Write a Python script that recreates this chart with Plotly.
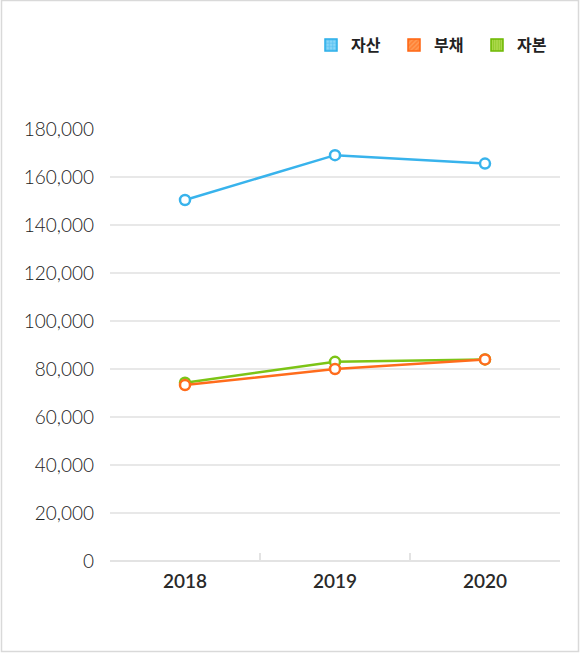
import plotly.graph_objects as go

# data
years = ["2018", "2019", "2020"]
assets = [150400, 169100, 165600]
liabilities = [73300, 80000, 84000]
equity = [74300, 83000, 84000]

names = ["자산", "부채", "자본"]
line_colors = ["#38b3ec", "#ff6c1c", "#7cc416"]

W, H = 580, 653
ML, MR, MT, MB = 110, 20, 129, 92
PW, PH = W - ML - MR, H - MT - MB

fig = go.Figure()

# lines (green before orange so orange sits on top)
for vals, color in [(assets, line_colors[0]), (equity, line_colors[2]), (liabilities, line_colors[1])]:
    fig.add_trace(go.Scatter(
        x=years, y=vals, mode="lines+markers", showlegend=False,
        line=dict(color=color, width=2.5),
        marker=dict(symbol="circle", size=10, color="white",
                    line=dict(color=color, width=2.5)),
        hoverinfo="skip",
    ))

# legend swatches: empty bar traces with pattern fills
patterns = [
    dict(bg="#8ad6f8", fg="#2aaee9", shape="+", size=4, solidity=0.5),
    dict(bg="#ff9b55", fg="#ff6410", shape="/", size=4, solidity=0.5),
    dict(bg="#b4dd55", fg="#6cb800", shape="|", size=3, solidity=0.5),
]
for name, p in zip(names, patterns):
    fig.add_trace(go.Bar(
        x=[None], y=[None], name=name,
        marker=dict(color=p["bg"], line=dict(width=1.5, color=p["fg"]),
                    pattern=dict(shape=p["shape"], fgcolor=p["fg"], bgcolor=p["bg"],
                                 size=p["size"], solidity=p["solidity"], fillmode="overlay")),
    ))

fig.update_layout(
    width=W, height=H,
    margin=dict(l=ML, r=MR, t=MT, b=MB),
    paper_bgcolor="white", plot_bgcolor="white",
    font=dict(family="Lato, 'Noto Sans CJK KR'", color="#333333"),
    showlegend=True,
    legend=dict(
        orientation="h", x=1.0, xanchor="right",
        y=1 + (MT - 28) / PH, yanchor="top",
        font=dict(family="'Noto Sans CJK KR'", size=16, color="#222222", weight=700),
        itemwidth=30, entrywidth=38, traceorder="normal",
    ),
    xaxis=dict(
        type="category", range=[-0.5, 2.5],
        showgrid=False, showline=False, zeroline=False,
        tickson="boundaries", ticks="inside", ticklen=8, tickwidth=1.5,
        tickcolor="#e3e3e3",
        tickfont=dict(size=19, color="#2a2a2a", weight=600),
        ticklabelstandoff=7,
    ),
    yaxis=dict(
        range=[0, 180000], dtick=20000, tickformat=",",
        showgrid=True, gridcolor="#e8e8e8", gridwidth=1.5,
        zeroline=True, zerolinecolor="#e3e3e3", zerolinewidth=2,
        showline=False, ticks="",
        tickfont=dict(size=19, color="#222222", weight=300),
        ticklabelstandoff=15,
    ),
    shapes=[dict(
        type="rect", xref="paper", yref="paper",
        x0=-(ML - 1.5) / PW, x1=1 + (MR - 1.5) / PW,
        y0=-(MB - 1.5) / PH, y1=1 + (MT - 0.5) / PH,
        line=dict(color="#d9d9d9", width=1.5), layer="below",
    )],
)

# drop the browser's default 8px body margin so the figure sits at the corner
fig.write_html("out.html", config={"displayModeBar": False},
               post_script="document.body.style.margin='0';")
